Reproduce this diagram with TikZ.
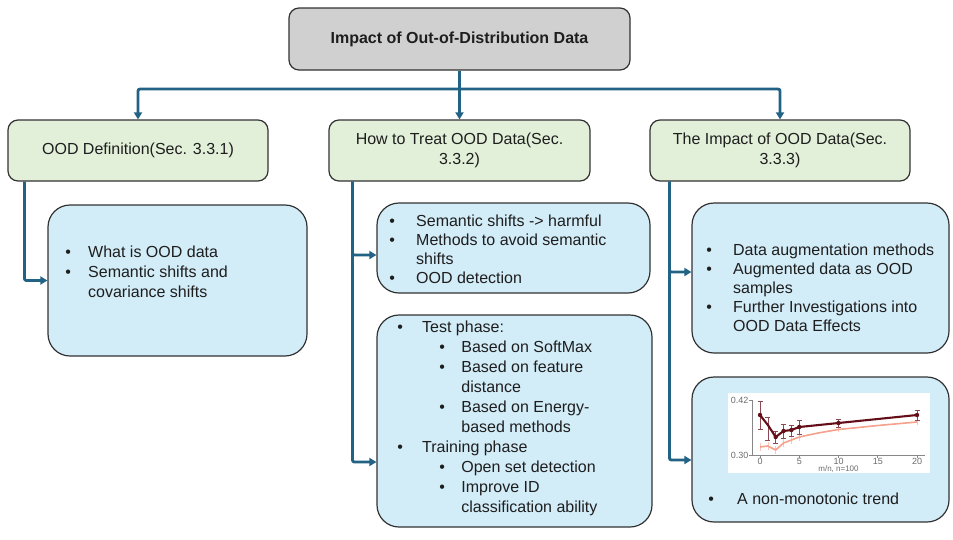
\documentclass[tikz,border=0pt]{standalone}
\usepackage{fontspec}
\setmainfont{Liberation Sans}
\usetikzlibrary{arrows.meta}

\definecolor{rootfill}{RGB}{208,208,208}
\definecolor{headfill}{RGB}{226,240,217}
\definecolor{bodyfill}{RGB}{210,236,248}
\definecolor{boxline}{RGB}{50,50,50}
\definecolor{linkcol}{RGB}{33,98,133}
\definecolor{inkcol}{RGB}{30,30,30}
\definecolor{darkcurve}{RGB}{100,14,26}
\definecolor{lightcurve}{RGB}{244,162,140}
\definecolor{axiscol}{RGB}{135,135,135}

% bullet set in a box of the given width
\newcommand{\dotbox}[1]{\makebox[#1][l]{\textbullet}}

\tikzset{
  rootbox/.style={draw=boxline, line width=1.2pt, fill=rootfill, rounded corners=10pt,
    font=\fontsize{16}{20}\selectfont\bfseries, text=inkcol},
  headbox/.style={draw=boxline, line width=1.2pt, fill=headfill, rounded corners=10pt,
    font=\fontsize{16}{20}\selectfont, text=inkcol, align=center},
  bodybox/.style={draw=boxline, line width=1.2pt, fill=bodyfill, rounded corners=22pt},
  bodytext/.style={inner sep=0pt, anchor=base west, text=inkcol},
  conn/.style={draw=linkcol, line width=2.8pt, rounded corners=2pt,
    -{Triangle[length=7pt,width=8pt]}},
  axis/.style={draw=axiscol, line width=0.7pt},
  ticklabel/.style={inner sep=0.5pt, text=axiscol!80!black, font=\fontsize{9}{10}\selectfont},
}

\begin{document}
\begin{tikzpicture}[x=1pt,y=-1pt]
\useasboundingbox (0,0) rectangle (953,539);

% root and section headers
\node[rootbox, minimum width=341pt, minimum height=62pt] (root) at (459.5,39)
  {Impact of Out-of-Distribution Data};
\node[headbox, minimum width=260pt, minimum height=61pt] (leftg) at (138,150.5)
  {OOD Definition(Sec. 3.3.1)};
\node[headbox, minimum width=261pt, minimum height=61pt] (midg) at (459.5,150.5)
  {How to Treat OOD Data(Sec.\\3.3.2)};
\node[headbox, minimum width=260pt, minimum height=61pt] (rightg) at (780,150.5)
  {The Impact of OOD Data(Sec.\\3.3.3)};

% content boxes
\node[bodybox, minimum width=259pt, minimum height=151pt] (lblue) at (177.5,280.5) {};
\node[bodybox, minimum width=273pt, minimum height=90pt] (mtop) at (513.5,248) {};
\node[bodybox, minimum width=275pt, minimum height=212pt] (mbot) at (514.5,421) {};
\node[bodybox, minimum width=257pt, minimum height=150pt] (rtop) at (820.5,278) {};
\node[bodybox, minimum width=257pt, minimum height=145pt] (rbot) at (820.5,449.5) {};

% box texts
\node[bodytext, font=\fontsize{16}{20}\selectfont] (ltext) at (65.2,257.5)
  {\begin{tabular}[t]{@{}l@{}}
   \dotbox{22.8pt}What is OOD data\\
   \dotbox{22.8pt}Semantic shifts and\\
   \hspace*{22.8pt}covariance shifts
   \end{tabular}};
\node[bodytext, font=\fontsize{16}{19}\selectfont] (mtoptext) at (389.2,226.5)
  {\begin{tabular}[t]{@{}l@{}}
   \dotbox{26.8pt}Semantic shifts -> harmful\\
   \dotbox{26.8pt}Methods to avoid semantic\\
   \hspace*{26.8pt}shifts\\
   \dotbox{26.8pt}OOD detection
   \end{tabular}};
\node[bodytext, font=\fontsize{16}{20}\selectfont] (mbottext) at (397.2,332)
  {\begin{tabular}[t]{@{}l@{}}
   \dotbox{24.8pt}Test phase:\\
   \hspace*{42pt}\dotbox{22pt}Based on SoftMax\\
   \hspace*{42pt}\dotbox{22pt}Based on feature\\
   \hspace*{64pt}distance\\
   \hspace*{42pt}\dotbox{22pt}Based on Energy-\\
   \hspace*{64pt}based methods\\
   \dotbox{24.8pt}Training phase\\
   \hspace*{42pt}\dotbox{22pt}Open set detection\\
   \hspace*{42pt}\dotbox{22pt}Improve ID\\
   \hspace*{64pt}classification ability
   \end{tabular}};
\node[bodytext, font=\fontsize{16}{19}\selectfont] (rtoptext) at (706.2,255.5)
  {\begin{tabular}[t]{@{}l@{}}
   \dotbox{26.8pt}Data augmentation methods\\
   \dotbox{26.8pt}Augmented data as OOD\\
   \hspace*{26.8pt}samples\\
   \dotbox{26.8pt}Further Investigations into\\
   \hspace*{26.8pt}OOD Data Effects
   \end{tabular}};
\node[bodytext, font=\fontsize{16}{19}\selectfont] (rbottext) at (708.2,504)
  {\dotbox{28.8pt}A non-monotonic trend};

% connectors
\coordinate (hub) at (459.5,89);
\draw[conn] (root) -- (midg);
\draw[conn] (hub) -| (leftg.north);
\draw[conn] (hub) -| (rightg.north);
\draw[conn] ([xshift=17pt]leftg.south west) |- (lblue.west);
\draw[conn] ([xshift=24pt]midg.south west) |- ([yshift=-7pt]mtop.west);
\draw[conn] ([xshift=24pt]midg.south west) |- ([yshift=-41pt]mbot.west);
\draw[conn] ([xshift=20pt]rightg.south west) |- ([yshift=6pt]rtop.west);
\draw[conn] ([xshift=20pt]rightg.south west) |- ([yshift=-10.5pt]rbot.west);

% small line chart inside the last box
\fill[white] (728,393) rectangle (930,473);
\draw[axis] (752,400) -- (752,455) -- (925,455);
\draw[axis] (749,400) -- (752,400);
\draw[axis] (749,455) -- (752,455);
\foreach \t/\lab in {0/0,5/5,10/10,15/15,20/20}{
  \draw[axis] ({760+7.85*\t},455) -- ({760+7.85*\t},458);
  \node[ticklabel, anchor=north] (xt\t) at ({760+7.85*\t},458) {\lab};
}
\node[ticklabel, anchor=east] (yhi) at (749,400) {0.42};
\node[ticklabel, anchor=east] (ylo) at (749,455) {0.30};
\node[ticklabel, font=\fontsize{8}{9}\selectfont] (xlab) at (838.5,469.5) {m/n, n=100};

% lighter series with faint error bars
\foreach \x/\lo/\hi in {760/443/451,767.85/442/450,775.7/446/454,783.55/439/447,791.4/436/444,799.25/433/441,838.5/425/432,917/418/425}{
  \draw[lightcurve!60, line width=0.6pt] (\x,\lo) -- (\x,\hi);
}
\draw[lightcurve, line width=1.6pt, line join=round]
  (760,447) -- (767.85,446) -- (775.7,450) -- (783.55,443) -- (791.4,440)
  -- (799.25,437) -- (818,433) -- (838.5,429.5) -- (877.75,425.5) -- (917,422);

% darker series with error bars
\foreach \x/\lo/\hi in {760/401/429,767.85/417/440,775.7/431/443,783.55/424/438,791.4/425/436,799.25/420/434,838.5/419/427,917/410/420}{
  \draw[darkcurve!75, line width=0.7pt] (\x,\lo) -- (\x,\hi)
    (\x-2.5,\lo) -- (\x+2.5,\lo) (\x-2.5,\hi) -- (\x+2.5,\hi);
}
\draw[darkcurve, line width=2.1pt, line join=round]
  (760,415) -- (767.85,425) -- (775.7,437) -- (783.55,431) -- (791.4,430)
  -- (799.25,427) -- (838.5,423) -- (917,415);
\foreach \x/\y in {760/415,775.7/437,783.55/431,791.4/430,799.25/427,838.5/423,917/415}{
  \fill[darkcurve] (\x,\y) circle (2.2pt);
}
\end{tikzpicture}
\end{document}
